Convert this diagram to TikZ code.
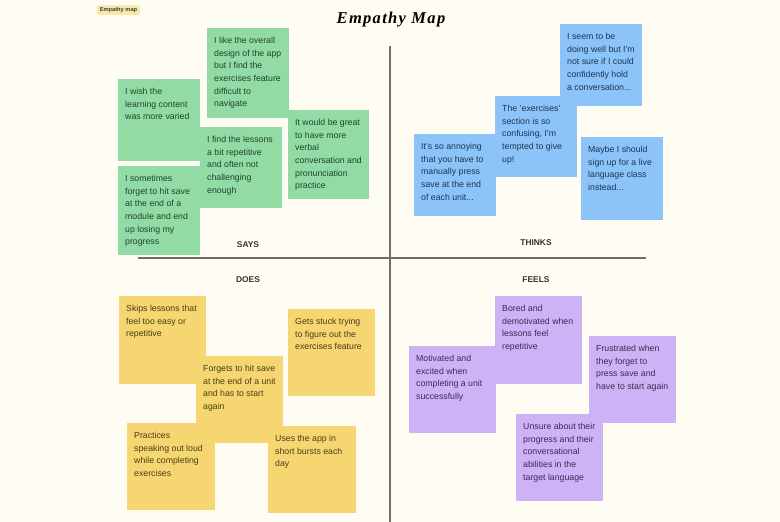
\documentclass[tikz,border=0pt]{standalone}
\usepackage{fontspec}
\setmainfont{Liberation Sans}
\newfontfamily\titlefont[LetterSpace=8]{Liberation Serif}
\usepackage{tikz}
\usetikzlibrary{positioning}
\definecolor{paper}{HTML}{FFFCF3}
\definecolor{notegreen}{HTML}{93DBA4}
\definecolor{noteblue}{HTML}{8CC3F8}
\definecolor{noteyellow}{HTML}{F6D671}
\definecolor{notepurple}{HTML}{CDB2F6}
\definecolor{inkgreen}{HTML}{1B4430}
\definecolor{inkblue}{HTML}{1B3554}
\definecolor{inkyellow}{HTML}{483D18}
\definecolor{inkpurple}{HTML}{3A2B52}
\definecolor{chip}{HTML}{F8E9A9}
\definecolor{axis}{HTML}{6F6F6A}
\tikzset{
  notetext/.style={pos=0,anchor=north west,inner xsep=7pt,inner ysep=9pt,align=left,
    font=\fontsize{8.75}{12.65}\selectfont},
  quadrant/.style={font=\fontsize{8.4}{10}\selectfont\bfseries,text=black!80},
  axisline/.style={draw=axis,line width=1.1pt}
}
\begin{document}
\begin{tikzpicture}[x=1pt,y=-1pt]
      \useasboundingbox (0,0) rectangle (780,522);
      \fill[paper] (0,0) rectangle (780,522);
      \node[font=\titlefont\bfseries\itshape\fontsize{16.5}{20}\selectfont] (title) at (391,19.5) {Empathy Map};
      \node[fill=chip,rounded corners=1.5pt,inner sep=0pt,minimum width=43pt,minimum height=9.5pt,
        font=\fontsize{5.7}{6}\selectfont\bfseries,text=black!75] (chipmap) at (118.5,10) {Empathy map};
      % axes
      \coordinate (axistop) at (390,46);
      \coordinate (axisbottom) at (390,522);
      \coordinate (axisleft) at (138,258);
      \coordinate (axisright) at (646,258);
      \draw[axisline] (axistop) -- (axisbottom);
      \draw[axisline] (axisleft) -- (axisright);
      % says
      \fill[notegreen] (207,28) rectangle (289,118) node[notetext,text=inkgreen] (likedesign) {I like the overall\\design of the app\\but I find the\\exercises feature\\difficult to\\navigate};
      \fill[notegreen] (118,79) rectangle (200,161) node[notetext,text=inkgreen] (wishvaried) {I wish the\\learning content\\was more varied};
      \fill[notegreen] (200,127) rectangle (282,208) node[notetext,text=inkgreen] (findrepeat) {I find the lessons\\a bit repetitive\\and often not\\challenging\\enough};
      \fill[notegreen] (288,110) rectangle (369,199) node[notetext,text=inkgreen] (verbal) {It would be great\\to have more\\verbal\\conversation and\\pronunciation\\practice};
      \fill[notegreen] (118,166) rectangle (200,255) node[notetext,text=inkgreen] (forgetsave) {I sometimes\\forget to hit save\\at the end of a\\module and end\\up losing my\\progress};
      \node[quadrant] (says) at (248,245) {SAYS};
      % thinks
      \fill[noteblue] (560,24) rectangle (642,106) node[notetext,text=inkblue] (doingwell) {I seem to be\\doing well but I'm\\not sure if I could\\confidently hold\\a conversation...};
      \fill[noteblue] (414,134) rectangle (496,216) node[notetext,text=inkblue] (annoying) {It's so annoying\\that you have to\\manually press\\save at the end\\of each unit...};
      \fill[noteblue] (495,96) rectangle (577,177) node[notetext,text=inkblue] (confusing) {The 'exercises'\\section is so\\confusing, I'm\\tempted to give\\up!};
      \fill[noteblue] (581,137) rectangle (663,220) node[notetext,text=inkblue] (liveclass) {Maybe I should\\sign up for a live\\language class\\instead...};
      \node[quadrant] (thinks) at (536,243) {THINKS};
      % does
      \fill[noteyellow] (119,296) rectangle (206,384) node[notetext,text=inkyellow] (skips) {Skips lessons that\\feel too easy or\\repetitive};
      \fill[noteyellow] (288,309) rectangle (375,396) node[notetext,text=inkyellow] (stuck) {Gets stuck trying\\to figure out the\\exercises feature};
      \fill[noteyellow] (196,356) rectangle (283,443) node[notetext,text=inkyellow] (forgets) {Forgets to hit save\\at the end of a unit\\and has to start\\again};
      \fill[noteyellow] (127,423) rectangle (215,510) node[notetext,text=inkyellow] (practices) {Practices\\speaking out loud\\while completing\\exercises};
      \fill[noteyellow] (268,426) rectangle (356,513) node[notetext,text=inkyellow] (bursts) {Uses the app in\\short bursts each\\day};
      \node[quadrant] (does) at (248,280) {DOES};
      % feels
      \fill[notepurple] (495,296) rectangle (582,384) node[notetext,text=inkpurple] (bored) {Bored and\\demotivated when\\lessons feel\\repetitive};
      \fill[notepurple] (409,346) rectangle (496,433) node[notetext,text=inkpurple] (motivated) {Motivated and\\excited when\\completing a unit\\successfully};
      \fill[notepurple] (589,336) rectangle (676,423) node[notetext,text=inkpurple] (frustrated) {Frustrated when\\they forget to\\press save and\\have to start again};
      \fill[notepurple] (516,414) rectangle (603,501) node[notetext,text=inkpurple] (unsure) {Unsure about their\\progress and their\\conversational\\abilities in the\\target language};
      \node[quadrant] (feels) at (536,280) {FEELS};
    \end{tikzpicture}
\end{document}
